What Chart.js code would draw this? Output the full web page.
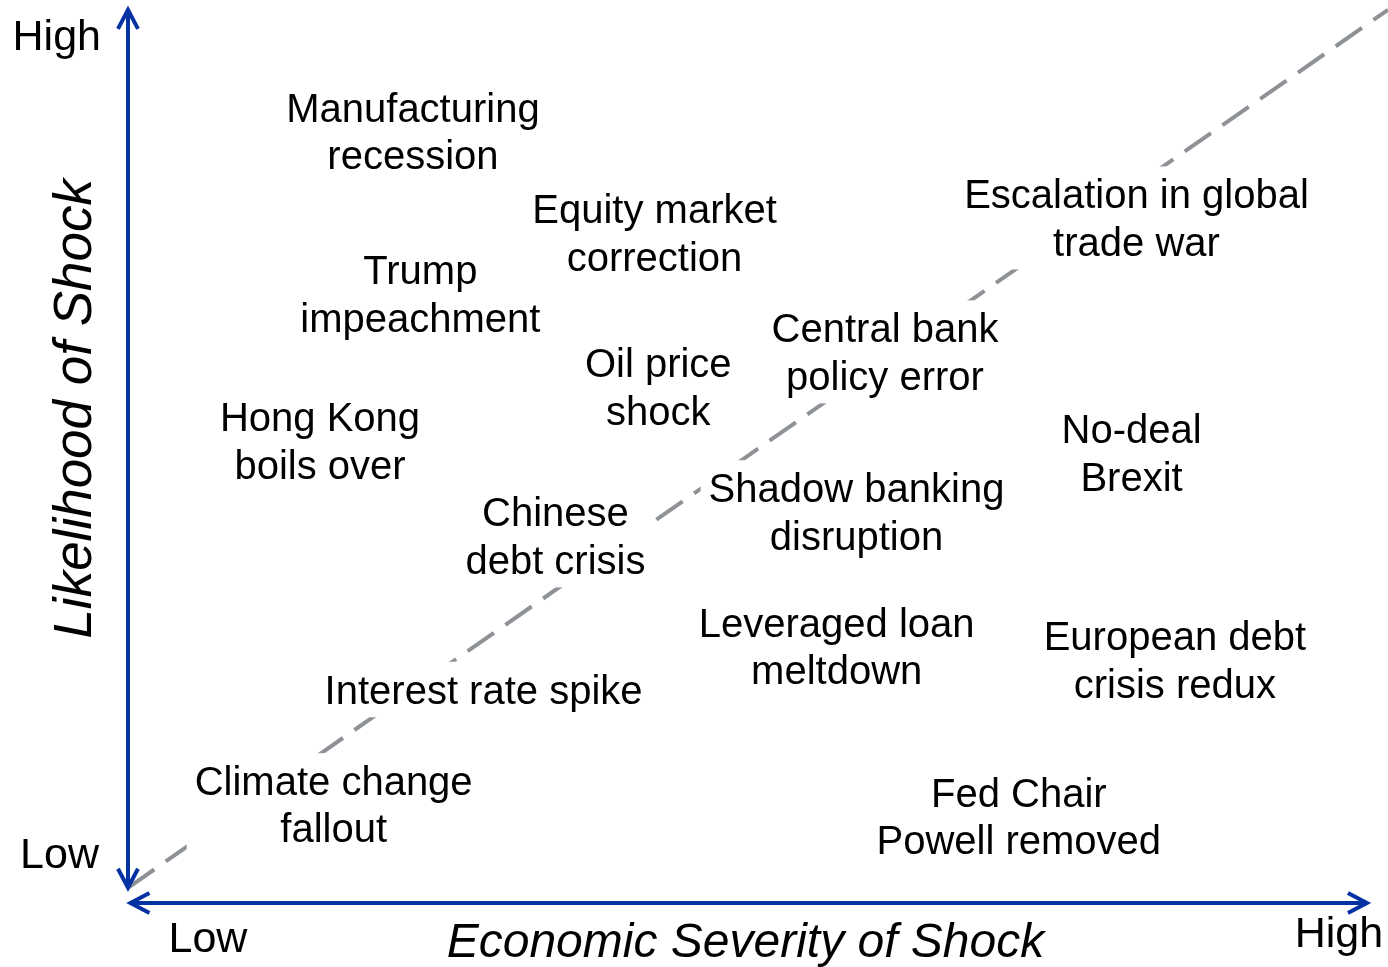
<!DOCTYPE html>
<html>
<head>
<meta charset="utf-8">
<script src="https://cdn.jsdelivr.net/npm/chart.js@4.4.1/dist/chart.umd.min.js"></script>
<style>
  body { margin: 0; background: #ffffff; }
  #wrap { width: 1388px; height: 967px; }
</style>
</head>
<body>
<div id="wrap"><canvas id="riskChart" width="1388" height="967"></canvas></div>
<script>
// Risk map: economic severity (x) vs likelihood (y), both on a 0-100 scale
const riskLabels = [
    ["Manufacturing", "recession"],
    ["Equity market", "correction"],
    ["Trump", "impeachment"],
    ["Oil price", "shock"],
    ["Central bank", "policy error"],
    ["Escalation in global", "trade war"],
    ["Hong Kong", "boils over"],
    ["No-deal", "Brexit"],
    ["Shadow banking", "disruption"],
    ["Chinese", "debt crisis"],
    ["Leveraged loan", "meltdown"],
    ["European debt", "crisis redux"],
    ["Interest rate spike"],
    ["Climate change", "fallout"],
    ["Fed Chair", "Powell removed"]
];
const severity   = [23.0, 42.5, 23.6, 42.8, 61.1, 81.4, 15.5, 81.0, 58.8, 34.5, 57.2, 84.5, 28.7, 16.6, 71.9];
const likelihood = [86.4, 75.0, 68.2, 57.8, 61.7, 76.7, 51.7, 50.4, 43.8, 41.1, 28.7, 27.2, 23.9, 11.0,  9.7];

// dashed diagonal from the origin to the top right corner
const diagonalX = [0, 101.7];
const diagonalY = [1.7, 100];

const axisTitleX = "Economic Severity of Shock";
const axisTitleY = "Likelihood of Shock";
const lowText = "Low";
const highText = "High";

const AXIS_BLUE = "#0532a3";
const FONT = "'Liberation Sans', Arial, sans-serif";

function arrowHead(ctx, tipX, tipY, dx, dy) {
    // dx, dy: unit direction the arrow points to
    const len = 19, half = 10;
    const bx = tipX - dx * len, by = tipY - dy * len;
    ctx.beginPath();
    ctx.moveTo(bx - dy * half, by + dx * half);
    ctx.lineTo(tipX, tipY);
    ctx.lineTo(bx + dy * half, by - dx * half);
    ctx.stroke();
}

const riskMapPlugin = {
    id: "riskMap",
    afterDatasetsDraw(chart) {
        const ctx = chart.ctx;
        const xs = chart.scales.x, ys = chart.scales.y;
        const meta = chart.getDatasetMeta(1);
        const lineH = 47.5;

        ctx.save();
        ctx.font = "40px " + FONT;
        ctx.textAlign = "center";
        ctx.textBaseline = "middle";

        // white boxes that cut the dashed line behind each label
        meta.data.forEach((pt, i) => {
            const lines = riskLabels[i];
            const w = Math.max(...lines.map(l => ctx.measureText(l).width));
            const h = lines.length * lineH;
            ctx.fillStyle = "#ffffff";
            ctx.fillRect(pt.x - w / 2 - 8, pt.y - h / 2 - 4, w + 16, h + 8);
        });

        ctx.fillStyle = "#000000";
        meta.data.forEach((pt, i) => {
            const lines = riskLabels[i];
            const top = pt.y - (lines.length - 1) * lineH / 2;
            lines.forEach((l, j) => ctx.fillText(l, pt.x, top + j * lineH + 3));
        });

        // axes with arrows at both ends
        const x0 = xs.getPixelForValue(0), y0 = ys.getPixelForValue(0);
        const xEnd = xs.getPixelForValue(100), yEnd = ys.getPixelForValue(100);
        const yBottom = ys.getPixelForValue(1.7);
        const xStart = xs.getPixelForValue(0.2);

        ctx.strokeStyle = AXIS_BLUE;
        ctx.lineWidth = 4;
        ctx.lineCap = "butt";
        ctx.beginPath();
        ctx.moveTo(x0, yBottom - 2);
        ctx.lineTo(x0, yEnd + 2);
        ctx.moveTo(xStart + 2, y0);
        ctx.lineTo(xEnd - 2, y0);
        ctx.stroke();
        ctx.lineJoin = "miter";
        arrowHead(ctx, x0, yEnd, 0, -1);
        arrowHead(ctx, x0, yBottom, 0, 1);
        arrowHead(ctx, xStart, y0, -1, 0);
        arrowHead(ctx, xEnd, y0, 1, 0);

        // low / high markers
        ctx.fillStyle = "#000000";
        ctx.font = "43px " + FONT;
        ctx.textAlign = "right";
        ctx.fillText(highText, x0 - 27, yEnd + 28);
        ctx.fillText(lowText, x0 - 29, yBottom - 32);
        ctx.textAlign = "center";
        ctx.fillText(lowText, x0 + 80, y0 + 37);
        ctx.fillText(highText, xEnd - 28, y0 + 32);

        // axis titles
        ctx.font = "italic 48px " + FONT;
        ctx.fillText(axisTitleX, (x0 + xEnd) / 2 - 2, y0 + 41);
        ctx.save();
        ctx.translate(x0 - 52, (yEnd + yBottom) / 2 - 40);
        ctx.rotate(-Math.PI / 2);
        ctx.font = "italic 53px " + FONT;
        ctx.fillText(axisTitleY, 0, 0);
        ctx.restore();

        ctx.restore();
    }
};

new Chart(document.getElementById("riskChart"), {
    type: "scatter",
    data: {
        datasets: [
            {
                type: "line",
                data: diagonalX.map((x, i) => ({ x: x, y: diagonalY[i] })),
                borderColor: "#8e9196",
                borderWidth: 4,
                borderDash: [32, 14],
                pointRadius: 0,
                fill: false
            },
            {
                data: severity.map((x, i) => ({ x: x, y: likelihood[i] })),
                pointRadius: 0,
                pointHoverRadius: 0
            }
        ]
    },
    options: {
        responsive: false,
        animation: false,
        layout: { padding: 0 },
        plugins: { legend: { display: false }, tooltip: { enabled: false } },
        scales: {
            x: { type: "linear", display: false, min: -10.33, max: 101.7 },
            y: { type: "linear", display: false, min: -7.17, max: 101.1 }
        }
    },
    plugins: [riskMapPlugin]
});
</script>
</body>
</html>
